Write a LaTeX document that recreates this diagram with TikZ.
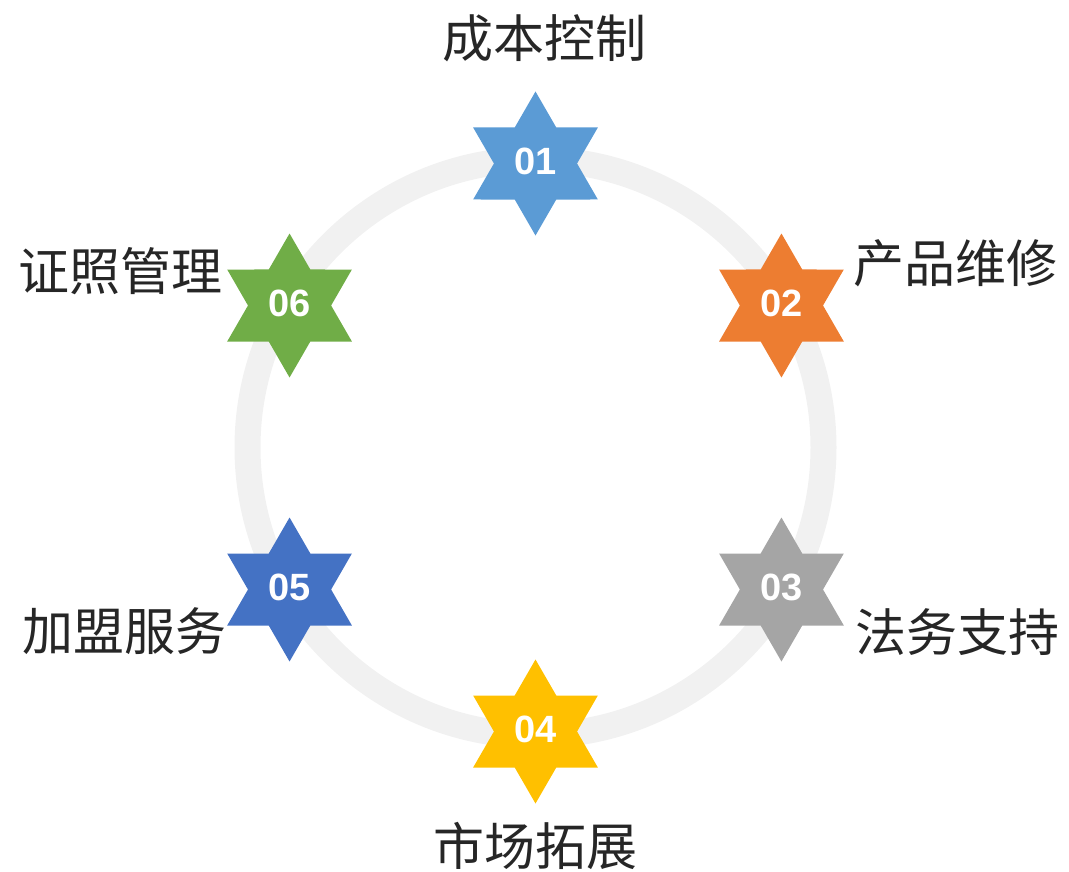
\documentclass[tikz,border=0pt]{standalone}
\usepackage{fontspec}
\usetikzlibrary{calc}
\newfontfamily\cjk{Noto Sans CJK SC}
\newfontfamily\numfont{Liberation Sans}
\definecolor{c1}{HTML}{5B9BD5}
\definecolor{c2}{HTML}{ED7D31}
\definecolor{c3}{HTML}{A5A5A5}
\definecolor{c4}{HTML}{FFC000}
\definecolor{c5}{HTML}{4472C4}
\definecolor{c6}{HTML}{70AD47}
\definecolor{ringc}{HTML}{F1F1F1}
\definecolor{txt}{HTML}{262626}
\tikzset{
  hexstar/.pic={\fill[pic actions] (90:72pt)--(60:41.57pt)--(30:72pt)--(0:41.57pt)--(-30:72pt)--(-60:41.57pt)--(-90:72pt)--(-120:41.57pt)--(-150:72pt)--(180:41.57pt)--(150:72pt)--(120:41.57pt)--cycle;},
  num/.style={text=white, font=\numfont\bfseries\fontsize{38}{38}\selectfont, inner sep=0pt, yshift=2pt},
  lbl/.style={text=txt, font=\cjk\fontsize{51}{51}\selectfont, inner sep=0pt}
}
\begin{document}
\begin{tikzpicture}[x=1pt,y=-1pt]
\useasboundingbox (0,0) rectangle (1069,872);
\coordinate (o) at (535.5,447.5);
\draw[ringc, line width=26pt] (o) circle[radius=288pt];
\foreach \i/\a/\c in {1/90/c1, 2/30/c2, 3/-30/c3, 4/-90/c4, 5/-150/c5, 6/150/c6}{
  \coordinate (s\i) at ($(o)+({284*cos(\a)},{-284*sin(\a)})$);
  \pic[fill=\c] at (s\i) {hexstar};
}
\node[num] (n1) at (s1) {01};
\node[num] (n2) at (s2) {02};
\node[num] (n3) at (s3) {03};
\node[num] (n4) at (s4) {04};
\node[num] (n5) at (s5) {05};
\node[num] (n6) at (s6) {06};
\node[lbl] (l1) at (544,38) {成本控制};
\node[lbl] (l2) at (955,263) {产品维修};
\node[lbl] (l3) at (957,632) {法务支持};
\node[lbl] (l4) at (535,846) {市场拓展};
\node[lbl] (l5) at (125,631) {加盟服务};
\node[lbl] (l6) at (121,271) {证照管理};
\end{tikzpicture}
\end{document}
